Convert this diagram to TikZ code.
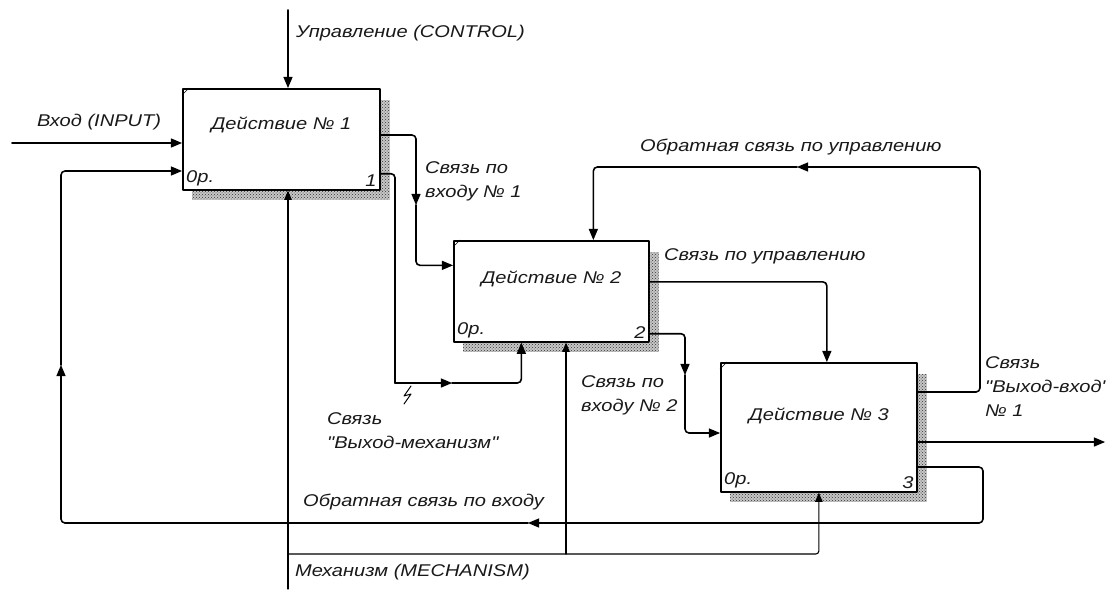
\documentclass[tikz,border=0pt]{standalone}
\usepackage{fontspec}
\setmainfont{Liberation Sans}[FakeStretch=1.18]
\newfontfamily\qfont{Liberation Sans}[FakeStretch=1.18]
\usetikzlibrary{arrows,patterns}
\newcommand{\qt}{{\qfont"}}

\begin{document}
\begin{tikzpicture}[line cap=round,line join=round,>=triangle 45,x=1pt,y=-1pt,
    every node/.style={font=\fontsize{17}{24}\selectfont\itshape,text=black!90},
    act/.style={draw,line width=1.7pt,fill=white,anchor=north west,inner sep=0pt},
    link/.style={line width=1.6pt,rounded corners=4pt,color=black},
    mechlink/.style={line width=1.1pt,rounded corners=3pt,color=black},
    shade/.style={fill=black!22,postaction={pattern=crosshatch dots,pattern color=black!80}},
    lbl/.style={anchor=west,align=left,inner sep=0pt}]
    \fill[white] (0,0) rectangle (1107,589);
    \useasboundingbox (0,0) rectangle (1107,589);
    % activity boxes
    \node[act,minimum width=197pt,minimum height=101pt] (a1) at (182,88) {};
    \node[act,minimum width=195pt,minimum height=101pt] (a2) at (453,240) {};
    \node[act,minimum width=196pt,minimum height=129pt] (a3) at (720,362) {};
    \foreach \b in {a1,a2,a3} {
    \path[shade] ([yshift=-12pt]\b.north east) rectangle ([xshift=9pt,yshift=-9pt]\b.south east);
    \path[shade] ([xshift=10pt]\b.south west) rectangle ([xshift=9pt,yshift=-9pt]\b.south east);
    \draw[line width=0.6pt] ([yshift=-7pt]\b.north west) -- ([xshift=7pt]\b.north west);
    \node[anchor=south west,inner sep=4pt] at (\b.south west) {0р.};
    }
    \node at ([yshift=14pt]a1.center) {Действие № 1};
    \node at ([yshift=12pt]a2.center) {Действие № 2};
    \node at ([yshift=11pt]a3.center) {Действие № 3};
    \node[anchor=south east,inner sep=4pt] at (a1.south east) {1};
    \node[anchor=south east,inner sep=4pt] at (a2.south east) {2};
    \node[anchor=south east,inner sep=4pt] at (a3.south east) {3};
    % boundary arrows
    \coordinate (ctl) at (288,10);
    \coordinate (inp) at (12,143);
    \coordinate (mech) at (288,589);
    \coordinate (out) at (1105,442);
    \draw[link,->] (ctl) -- (ctl |- a1.north);
    \node[lbl] at (296,33) {Управление (CONTROL)};
    \draw[link,->] (inp) -- (inp -| a1.west);
    \node[lbl] at (37,122) {Вход (INPUT)};
    \draw[link,->] ([yshift=-80pt]a3.north east) -- (out);
    % mechanism
    \coordinate (mechJ) at (288,554);
    \coordinate (mechB) at (566,554);
    \draw[mechlink,->] (mech) -- (mech |- a1.south);
    \draw[mechlink,->] (mechJ) -| (a3.south);
    \draw[mechlink,->] (mechB) -- (mechB |- a2.south);
    \node[lbl] at (295,572) {Механизм (MECHANISM)};
    % input link 1
    \coordinate (c1) at (416,205);
    \draw[link,->] ([yshift=-47pt]a1.north east) -| (c1);
    \draw[link,->] (c1) |- ([yshift=26pt]a2.west);
    \node[lbl] at (425,181.5) {Связь по\\входу № 1};
    % output-mechanism link
    \coordinate (c2) at (395,383);
    \coordinate (c3) at (452,383);
    \draw[link] ([yshift=17pt]a1.south east) -| (c2);
    \draw[link,->] (c2) -- (c3);
    \draw[link,->] (c3) -| ([xshift=-30pt]a2.south);
    \draw[line width=1pt] (411,386) -- (404,396) -- (411,394) -- (404,404);
    \node[lbl] at (327,430.5) {Связь\\\qt Выход-механизм\qt};
    % control feedback
    \coordinate (c4) at (980,167);
    \coordinate (c5) at (797,167);
    \draw[link,->] ([yshift=-30pt]a3.north east) -| (c4) -- (c5);
    \draw[link,->] (c5) -| ([xshift=42pt]a2.north);
    \node[lbl] at (640,147) {Обратная связь по управлению};
    \node[lbl] at (985,387) {Связь\\\qt Выход-вход\qt\\№ 1};
    % control link
    \draw[link,->] ([yshift=9.5pt]a2.east) -| ([xshift=8pt]a3.north);
    \node[lbl] at (664,256) {Связь по управлению};
    % input link 2
    \coordinate (c6) at (685,375);
    \draw[link,->] ([yshift=9pt]a2.south east) -| (c6);
    \draw[link,->] (c6) |- ([yshift=-71pt]a3.north west);
    \node[lbl] at (581,395) {Связь по\\входу № 2};
    % input feedback
    \coordinate (fbA) at (983,523);
    \coordinate (fbB) at (528,523);
    \coordinate (fbC) at (61,365);
    \coordinate (fbD) at (61,171);
    \draw[link,->] ([yshift=-105pt]a3.north east) -| (fbA) -- (fbB);
    \draw[link,->] (fbB) -| (fbC);
    \draw[link,->] (fbC) |- (fbD -| a1.west);
    \node[lbl] at (303,502) {Обратная связь по входу};
\end{tikzpicture}
\end{document}
